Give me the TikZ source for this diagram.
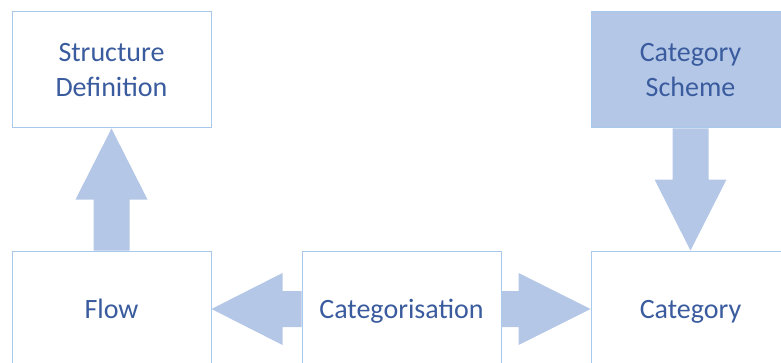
\documentclass[tikz,border=0pt]{standalone}
\usepackage{fontspec}
\setmainfont{Carlito}
\usetikzlibrary{calc}
\definecolor{arrowfill}{HTML}{B4C7E7}
\definecolor{boxline}{HTML}{A9C9EC}
\definecolor{labeltext}{HTML}{3A5C9E}
\tikzset{
  box/.style={draw=boxline, line width=1pt, fill=white, minimum width=199pt,
    minimum height=116pt, inner sep=0pt, align=center, text=labeltext,
    font=\fontsize{28}{35}\selectfont},
  oneline/.style={text height=18pt, text depth=0pt},
  schemebox/.style={box, fill=arrowfill},
  blockfill/.style={fill=arrowfill, draw=none}
}
\begin{document}
\begin{tikzpicture}[x=1pt,y=1pt]
  \useasboundingbox (0,0) rectangle (781,362);
  \clip (0,0) rectangle (781,362);
  % boxes (y measured upward from the bottom edge)
  \node[box] (sd) at (111.5,292) {Structure\\Definition};
  \node[schemebox] (cs) at (690.5,292) {Category\\Scheme};
  \node[box, oneline] (flow) at (111.5,53) {Flow};
  \node[box, oneline] (cz) at (401.5,53) {Categorisation};
  \node[box, oneline] (cat) at (690.5,53) {Category};
  % Flow -> Structure Definition
  \fill[blockfill] ($(flow.north)+(-18,0)$) -- ++(0,51) -- ++(-18,0)
    -- (sd.south) -- ($(flow.north)+(36,51)$) -- ++(-18,0)
    -- ($(flow.north)+(18,0)$) -- cycle;
  % Category Scheme -> Category
  \fill[blockfill] ($(cs.south)+(-18,0)$) -- ++(0,-51) -- ++(-18,0)
    -- (cat.north) -- ($(cs.south)+(36,-51)$) -- ++(-18,0)
    -- ($(cs.south)+(18,0)$) -- cycle;
  % Categorisation -> Flow
  \fill[blockfill] ($(cz.west)+(0,18)$) -- ++(-19,0) -- ++(0,18)
    -- (flow.east) -- ($(cz.west)+(-19,-36)$) -- ++(0,18)
    -- ($(cz.west)+(0,-18)$) -- cycle;
  % Categorisation -> Category
  \fill[blockfill] ($(cz.east)+(0,18)$) -- ++(17,0) -- ++(0,18)
    -- (cat.west) -- ($(cz.east)+(17,-36)$) -- ++(0,18)
    -- ($(cz.east)+(0,-18)$) -- cycle;
\end{tikzpicture}
\end{document}
